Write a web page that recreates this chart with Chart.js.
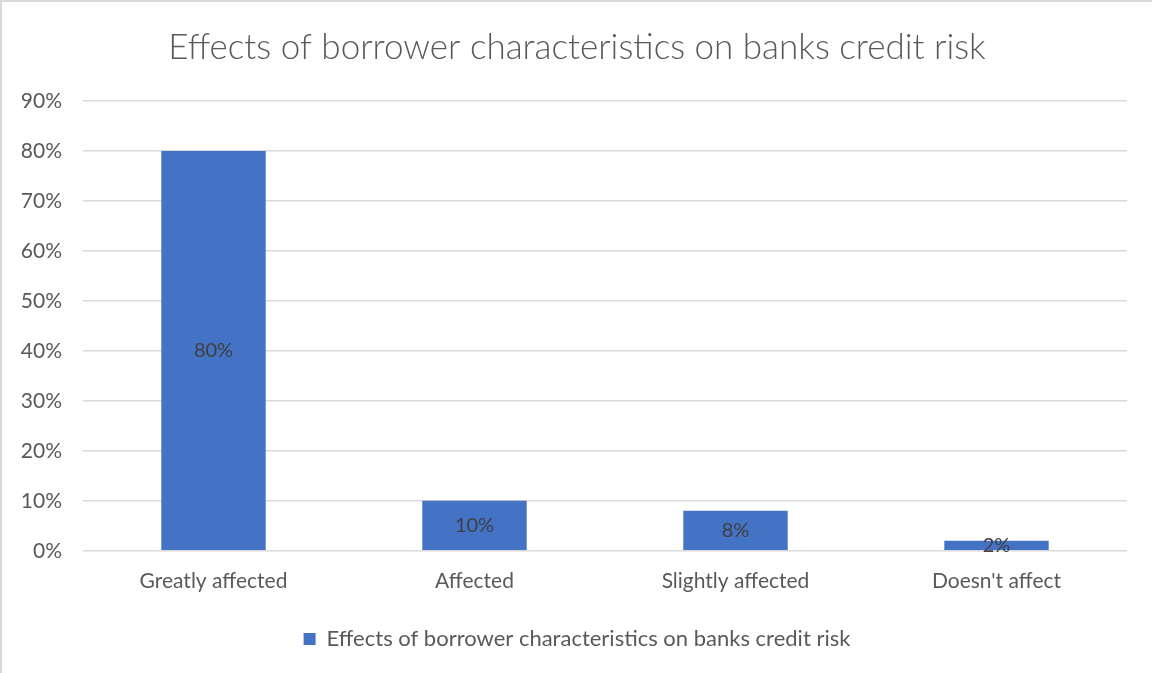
<!DOCTYPE html>
<html>
<head>
<meta charset="utf-8">
<script src="https://cdn.jsdelivr.net/npm/chart.js@4"></script>
<style>
  html, body { margin: 0; padding: 0; background: #fff; }
  #caja { position: absolute; left: 0; top: 0; width: 1152px; height: 673px; box-sizing: border-box; border-left: 2px solid #d9d9d9; border-top: 2px solid #d9d9d9; }
  canvas { display: block; }
</style>
</head>
<body>
<div id="caja"><canvas id="efectos" width="1150" height="671"></canvas></div>
<script>
let categorias = ["Greatly affected", "Affected", "Slightly affected", "Doesn't affect"];
let porcentajes = [80, 10, 8, 2];
let ticksY = [0, 10, 20, 30, 40, 50, 60, 70, 80, 90];
let tituloGrafico = "Effects of borrower characteristics on banks credit risk";
let nombreSerie = "Effects of borrower characteristics on banks credit risk";

let fuente = "Lato, 'Open Sans', sans-serif";

// etiquetas de valor centradas dentro de cada barra
const etiquetasBarras = {
  id: "etiquetasBarras",
  afterDatasetsDraw(chart) {
    let ctx = chart.ctx;
    let meta = chart.getDatasetMeta(0);
    ctx.save();
    ctx.font = "20px " + fuente;
    ctx.fillStyle = "#404040";
    ctx.textAlign = "center";
    ctx.textBaseline = "middle";
    meta.data.forEach((barra, i) => {
      let y = (barra.y + barra.base) / 2;
      ctx.fillText(porcentajes[i] + "%", barra.x, y);
    });
    ctx.restore();
  },
};

let ctx = document.getElementById("efectos").getContext("2d");
let chartEfectos = new Chart(ctx, {
  type: "bar",
  data: {
    labels: categorias,
    datasets: [
      {
        label: nombreSerie,
        data: porcentajes,
        backgroundColor: "rgb( 68, 114, 196 )",
        categoryPercentage: 1,
        barPercentage: 0.4,
      },
    ],
  },
  options: {
    responsive: false,
    animation: false,
    layout: { padding: { left: 0, right: 0, top: 14, bottom: 13 } },
    plugins: {
      title: {
        display: true,
        text: tituloGrafico,
        color: "#595959",
        font: { family: fuente, size: 35, weight: "300" },
        padding: { top: 11, bottom: 32 },
      },
      legend: {
        position: "bottom",
        labels: {
          color: "#595959",
          font: { family: fuente, size: 22 },
          boxWidth: 12,
          boxHeight: 12,
          padding: 24,
        },
      },
      tooltip: { enabled: false },
    },
    scales: {
      x: {
        grid: { display: false },
        border: { display: false },
        ticks: { color: "#595959", font: { family: fuente, size: 21 }, padding: 10 },
      },
      y: {
        min: 0,
        max: 90,
        afterBuildTicks: (eje) => { eje.ticks = ticksY.map((v) => ({ value: v })); },
        afterFit: (eje) => { eje.width = 81; },
        grid: { color: "#d9d9d9", lineWidth: 1.5, drawTicks: false },
        border: { display: false },
        ticks: {
          color: "#595959",
          font: { family: fuente, size: 21 },
          padding: 21,
          callback: (v) => v + "%",
        },
      },
      // margen derecho vacío
      margenDer: {
        type: "linear",
        position: "right",
        afterFit: (eje) => { eje.width = 25; },
        grid: { display: false },
        border: { display: false },
        ticks: { display: false },
      },
    },
  },
  plugins: [etiquetasBarras],
});
</script>
</body>
</html>
